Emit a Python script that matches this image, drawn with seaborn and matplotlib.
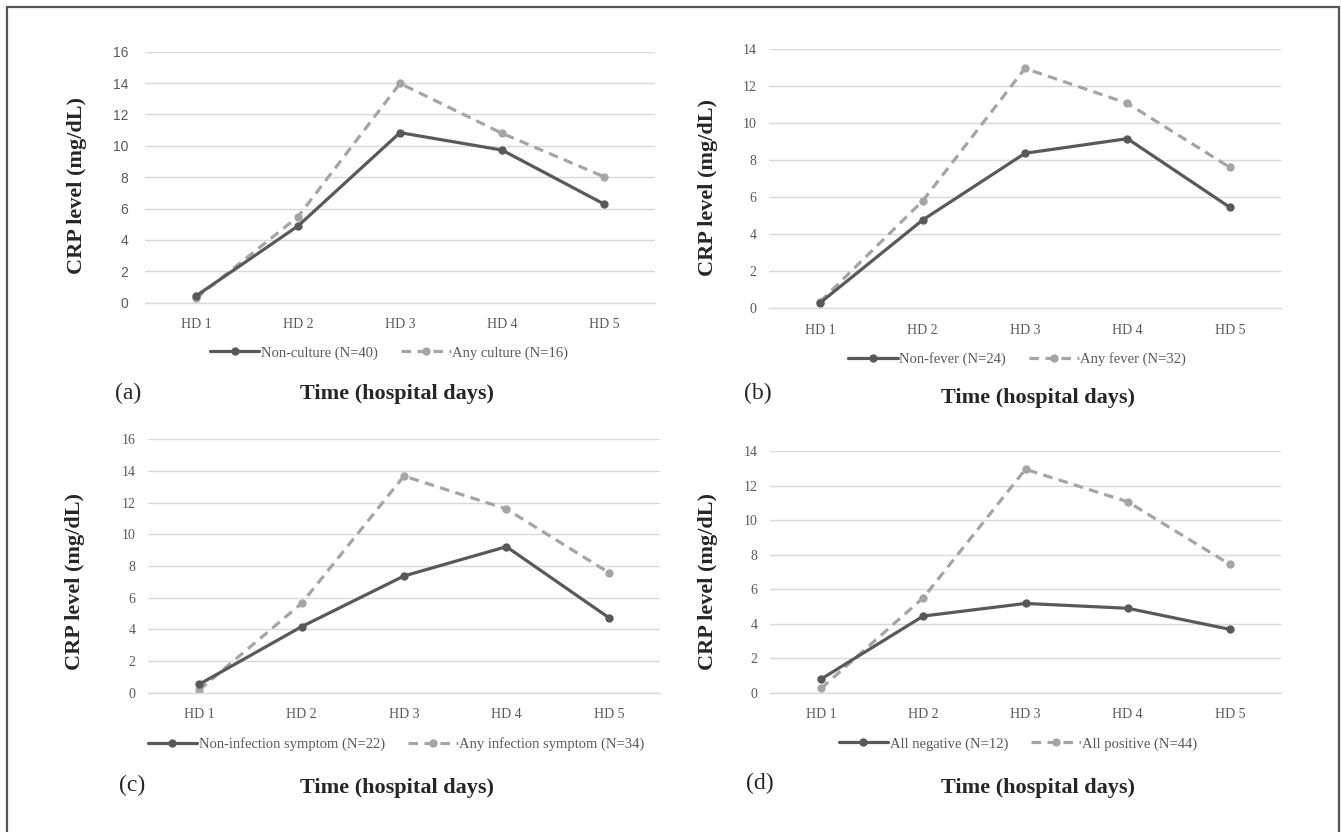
import numpy as np
import pandas as pd
import matplotlib
matplotlib.use("Agg")
import matplotlib.pyplot as plt
from matplotlib.patches import Rectangle
import seaborn as sns

# ------------- data ----------------------------------
days = ["HD 1", "HD 2", "HD 3", "HD 4", "HD 5"]

# (a) culture
non_culture = [0.43, 4.89, 10.84, 9.73, 6.29]
any_culture = [0.28, 5.48, 13.98, 10.80, 8.03]
# (b) fever
non_fever = [0.30, 4.77, 8.38, 9.17, 5.46]
any_fever = [0.36, 5.80, 12.97, 11.08, 7.62]
# (c) infection symptom
non_infection = [0.53, 4.17, 7.37, 9.22, 4.74]
any_infection = [0.17, 5.64, 13.68, 11.60, 7.58]
# (d) all negative / positive
all_negative = [0.79, 4.44, 5.17, 4.89, 3.67]
all_positive = [0.25, 5.50, 12.94, 11.06, 7.43]

panels = [
    ("(a)", "Non-culture (N=40)", non_culture, "Any culture (N=16)", any_culture, 16),
    ("(b)", "Non-fever (N=24)", non_fever, "Any fever (N=32)", any_fever, 14),
    ("(c)", "Non-infection symptom (N=22)", non_infection, "Any infection symptom (N=34)", any_infection, 16),
    ("(d)", "All negative (N=12)", all_negative, "All positive (N=44)", all_positive, 14),
]

# ------------- layout (pixels of the 1341x832 picture) --------------
W, H = 1341, 832
# left, right, top, bottom of each plot area
boxes = [(145, 655, 51.7, 302.7), (769, 1281, 49.3, 308.3),
         (148, 660, 439.3, 692.7), (770, 1281, 451, 692.7)]
ylab_pos = [(77, 185), (708, 187), (75, 582), (708, 582)]
letter_pos = [(128, 393), (758, 393), (132, 785), (760, 783)]
xlab_pos = [(397, 394), (1038, 398), (397, 788), (1038, 788)]
legend_pos = [(389, 353), (1017, 359), (396, 744), (1018, 744)]
ytick_font = ["Liberation Sans", "Liberation Serif", "Liberation Serif", "Liberation Serif"]
ytick_pad = [12, 9, 9, 9]

DARK = "#595959"
LIGHT = "#a5a5a5"
GRID = "#d9d9d9"

sns.set_style("white")
plt.rcParams["font.family"] = ["Liberation Serif", "DejaVu Serif"]

fig = plt.figure(figsize=(W / 100, H / 100), dpi=100)

for i, (letter, n1, v1, n2, v2, ymax) in enumerate(panels):
    l, r, t, b = boxes[i]
    ax = fig.add_axes([l / W, 1 - b / H, (r - l) / W, (b - t) / H])
    df = pd.DataFrame({
        "day": days * 2,
        "crp": v1 + v2,
        "group": [n1] * 5 + [n2] * 5,
    })
    sns.lineplot(data=df, x="day", y="crp", hue="group", style="group",
                 palette={n1: DARK, n2: LIGHT},
                 dashes={n1: "", n2: (3, 2)},
                 markers={n1: "o", n2: "o"},
                 markersize=6, markeredgewidth=0, linewidth=2.3,
                 hue_order=[n2, n1], style_order=[n2, n1], ax=ax)
    ax.set_xlim(-0.5, 4.5)
    ax.set_ylim(0, ymax)
    ax.set_yticks(np.arange(0, ymax + 1, 2))
    ax.grid(axis="y", color=GRID, linewidth=1)
    ax.set_axisbelow(True)
    for s in ["top", "right", "left"]:
        ax.spines[s].set_visible(False)
    ax.spines["bottom"].set_color(GRID)
    ax.spines["bottom"].set_linewidth(1)
    ax.tick_params(axis="both", length=0, colors=DARK, labelsize=10)
    ax.tick_params(axis="y", pad=ytick_pad[i])
    ax.tick_params(axis="x", pad=11)
    for lab in ax.get_yticklabels():
        lab.set_fontfamily(ytick_font[i])
    ax.set_xlabel("")
    ax.set_ylabel("")

    handles, labels = ax.get_legend_handles_labels()
    hd = dict(zip(labels, handles))
    ax.get_legend().remove()
    lx, ly = legend_pos[i]
    leg = fig.legend([hd[n1], hd[n2]], [n1, n2], ncol=2, loc="center",
                     bbox_to_anchor=(lx / W, 1 - ly / H), frameon=False,
                     fontsize=10.5, handlelength=3.4, handletextpad=0.1,
                     columnspacing=1.6)
    for txt in leg.get_texts():
        txt.set_color(DARK)

    x, y = ylab_pos[i]
    fig.text(x / W, 1 - y / H, "CRP level (mg/dL)", rotation=90, ha="center",
             va="center", fontsize=16, fontweight="bold")
    x, y = letter_pos[i]
    fig.text(x / W, 1 - y / H, letter, ha="center", va="center", fontsize=17)
    x, y = xlab_pos[i]
    fig.text(x / W, 1 - y / H, "Time (hospital days)", ha="center", va="center",
             fontsize=16, fontweight="bold")

# outer frame
fig.add_artist(Rectangle((7 / W, -0.02), (1339 - 7) / W, 1 - 7 / H + 0.02,
                         transform=fig.transFigure, fill=False,
                         edgecolor="#555555", linewidth=1.6))

plt.savefig("out.png", dpi=100)
